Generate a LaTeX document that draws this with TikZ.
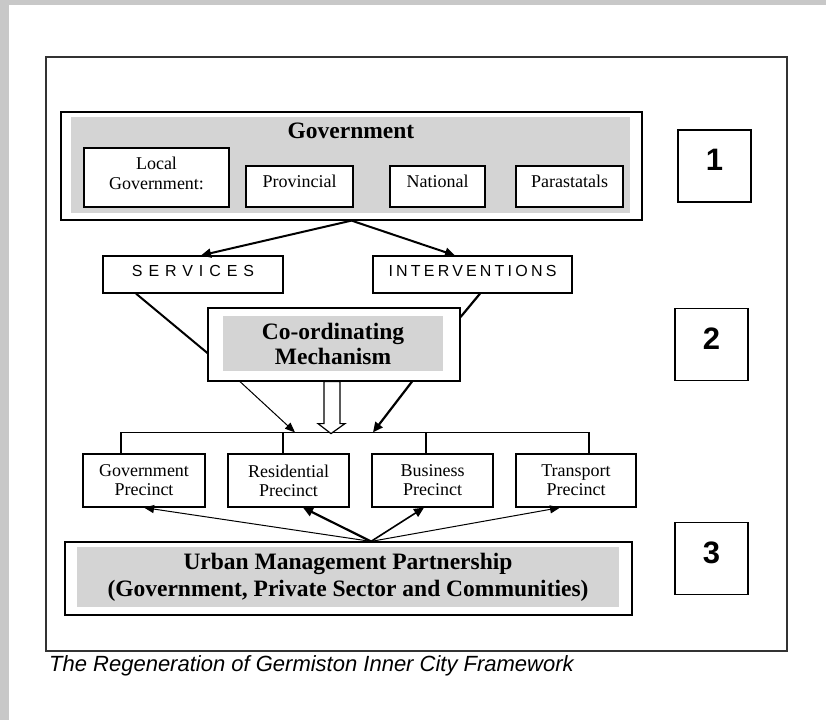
\documentclass[tikz,border=0pt]{standalone}
\usepackage{fontspec}
\setmainfont{Liberation Serif}
\newfontfamily\sansf{Liberation Sans}
\newfontfamily\servfont[LetterSpace=37]{Liberation Sans}
\newfontfamily\intfont[LetterSpace=20]{Liberation Sans}
\usetikzlibrary{arrows.meta,calc}
\definecolor{panel}{RGB}{212,212,212}
\definecolor{pageedge}{RGB}{200,200,200}
\definecolor{frameline}{RGB}{51,51,51}

\begin{document}
\begin{tikzpicture}[x=1pt,y=-1pt,
    box/.style={draw,line width=1.2pt,rectangle,inner sep=0pt,fill=white},
    panelfill/.style={fill=panel,rectangle,inner sep=0pt},
    small/.style={font=\fontsize{18}{20}\selectfont,align=center},
    big/.style={font=\bfseries\fontsize{23.5}{26}\selectfont,align=center},
    numbox/.style={box,minimum width=73pt,minimum height=72pt,text depth=12pt,
        font=\sansf\bfseries\fontsize{31}{31}\selectfont},
    heavyarrow/.style={line width=2.2pt,-{Triangle[length=10pt,width=9pt]}},
    lightarrow/.style={line width=1pt,-{Triangle[length=10pt,width=8pt]}},
    barline/.style={line width=1.2pt}]

    % page
    \fill[pageedge] (0,0) rectangle (826,720);
    \fill[white] (9,5) rectangle (826,720);
    \useasboundingbox (0,0) rectangle (826,720);
    \draw[frameline,line width=2pt] (46,57) rectangle (787,651);

    % government
    \node[box,minimum width=581pt,minimum height=108pt] (gov) at (351.5,166) {};
    \node[panelfill,minimum width=559pt,minimum height=96pt] (govpanel) at (350.5,165) {};
    \node[big] (govtitle) at (351,131) {Government};
    \node[box,small,minimum width=145pt,minimum height=59pt,text depth=8pt] (local) at (156.5,177.5) {Local\\Government:};
    \node[box,small,minimum width=107pt,minimum height=41pt,text depth=11pt] (prov) at (299.5,186.5) {Provincial};
    \node[box,small,minimum width=95pt,minimum height=41pt,text depth=11pt] (natl) at (437.5,186.5) {National};
    \node[box,small,minimum width=107pt,minimum height=41pt,text depth=11pt] (para) at (569.5,186.5) {Parastatals};

    % services and interventions
    \node[box,minimum width=180pt,minimum height=37pt,text depth=6.5pt,font=\servfont\fontsize{16}{16}\selectfont] (serv) at (193,274.5) {SERVICES};
    \node[box,minimum width=199pt,minimum height=37pt,text depth=6.5pt,font=\intfont\fontsize{16}{16}\selectfont] (interv) at (472.5,274.5) {INTERVENTIONS};

    % co-ordinating mechanism
    \node[box,minimum width=252pt,minimum height=73pt] (coord) at (334,344.5) {};
    \node[panelfill,big,minimum width=220pt,minimum height=55pt,font=\bfseries\fontsize{23.5}{25}\selectfont] (coordpanel) at (333,343.5) {Co-ordinating\\Mechanism};

    % precincts
    \node[box,small,minimum width=122pt,minimum height=53pt,font=\fontsize{18}{19}\selectfont] (gprec) at (144,480.5) {Government\\Precinct};
    \node[box,small,minimum width=121pt,minimum height=53pt,font=\fontsize{18}{19}\selectfont] (rprec) at (288.5,480.5) {Residential\\Precinct};
    \node[box,small,minimum width=121pt,minimum height=53pt,font=\fontsize{18}{19}\selectfont] (bprec) at (432.5,480.5) {Business\\Precinct};
    \node[box,small,minimum width=120pt,minimum height=53pt,font=\fontsize{18}{19}\selectfont] (tprec) at (576,480.5) {Transport\\Precinct};

    % urban management partnership
    \node[box,minimum width=567pt,minimum height=73pt] (urban) at (348.5,578.5) {};
    \node[panelfill,big,minimum width=542pt,minimum height=60pt,font=\bfseries\fontsize{23.5}{27}\selectfont] (urbanpanel) at (348,577) {Urban Management Partnership\\(Government, Private Sector and Communities)};

    % level numbers
    \node[numbox] (one) at (714.5,166) {1};
    \node[numbox] (two) at (711.5,344.5) {2};
    \node[numbox] (three) at (711.5,558.5) {3};

    % arrows out of government
    \draw[heavyarrow,line width=2pt] (gov.south) -- ([xshift=8pt]serv.north);
    \draw[heavyarrow,line width=2pt] (gov.south) -- ([xshift=-17.5pt]interv.north);
    \draw[line width=2pt] ([xshift=-57pt]serv.south) -- ([yshift=-8.5pt]coord.west);
    \draw[line width=2.2pt] ([xshift=7.5pt]interv.south) -- ([yshift=27.5pt]coord.east);

    % bar over precincts
    \draw[barline] ([xshift=-23pt]gprec.north) -- ++(0,-21) coordinate (barstart) -| ([xshift=13pt]tprec.north);
    \draw[barline] ([xshift=-5.5pt]rprec.north) -- ++(0,-21);
    \draw[barline] ([xshift=-6.5pt]bprec.north) -- ++(0,-21);

    \draw[lightarrow] ([xshift=-94pt]coord.south) -- ($(barstart)+(174,0)$);
    \draw[heavyarrow] ([xshift=78pt]coord.south) -- ($(barstart)+(252,0)$);
    \draw[barline,fill=white] ([xshift=-10pt]coord.south) -- ++(0,42) -- ++(-6,0) -- ++(13,10) -- ++(14,-10) -- ++(-5,0) -- ++(0,-42) -- cycle;

    % arrows out of partnership
    \draw[lightarrow] ([xshift=22.5pt]urban.north) -- (gprec.south);
    \draw[heavyarrow] ([xshift=22.5pt]urban.north) -- ([xshift=14.5pt]rprec.south);
    \draw[heavyarrow,line width=1.6pt] ([xshift=22.5pt]urban.north) -- ([xshift=-8.5pt]bprec.south);
    \draw[lightarrow] ([xshift=22.5pt]urban.north) -- ([xshift=-16pt]tprec.south);

    % caption
    \node[anchor=base west,inner sep=0pt,font=\sansf\itshape\fontsize{22}{22}\selectfont] (caption) at (49,671) {The Regeneration of Germiston Inner City Framework};
\end{tikzpicture}
\end{document}
